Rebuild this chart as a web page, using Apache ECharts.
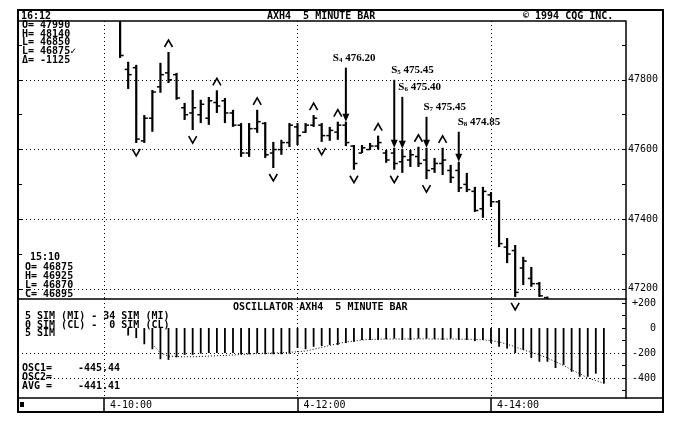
<!DOCTYPE html>
<html><head><meta charset="utf-8">
<script src="https://cdn.jsdelivr.net/npm/echarts@6/dist/echarts.min.js"></script>
<style>html,body{margin:0;padding:0;background:#fff}#c{width:677px;height:427px}</style>
</head><body><div id="c"></div>
<script>
// ---------------- DATA ----------------
const barTimes = ['10:10','10:15','10:20','10:25','10:30','10:35','10:40','10:45','10:50','10:55',
  '11:00','11:05','11:10','11:15','11:20','11:25','11:30','11:35','11:40','11:45','11:50','11:55',
  '12:00','12:05','12:10','12:15','12:20','12:25','12:30','12:35','12:40','12:45','12:50','12:55',
  '13:00','13:05','13:10','13:15','13:20','13:25','13:30','13:35','13:40','13:45','13:50','13:55',
  '14:00','14:05','14:10','14:15','14:20','14:25','14:30','14:35'];
const opens  = [47980,47830,47835,47625,47690,47780,47820,47815,47720,47705,
  47700,47690,47735,47740,47705,47670,47590,47660,47675,47590,47600,47620,
  47665,47650,47670,47670,47640,47650,47670,47610,47590,47600,47610,47590,
  47590,47565,47570,47580,47570,47545,47560,47540,47540,47500,47480,47430,
  47470,47450,47320,47310,47260,47230,47215,47175];
const highs  = [47990,47852,47843,47699,47771,47849,47880,47820,47734,47771,
  47743,47751,47770,47748,47714,47676,47676,47714,47679,47622,47628,47676,
  47676,47676,47699,47676,47665,47680,47680,47613,47613,47619,47640,47599,
  47605,47602,47599,47608,47605,47576,47605,47556,47565,47533,47493,47493,
  47478,47455,47346,47326,47292,47263,47220,47178];
const lows   = [47863,47774,47619,47619,47651,47763,47791,47743,47685,47656,
  47676,47671,47705,47676,47665,47579,47579,47648,47576,47547,47585,47607,
  47613,47648,47665,47622,47625,47628,47610,47542,47590,47599,47600,47562,
  47542,47533,47550,47550,47515,47533,47527,47504,47478,47478,47421,47404,
  47435,47320,47274,47177,47211,47206,47177,47120];
const closes = [47870,47815,47630,47690,47765,47815,47800,47748,47700,47720,
  47730,47740,47725,47705,47670,47590,47660,47680,47585,47600,47620,47670,
  47640,47670,47690,47640,47655,47670,47620,47560,47605,47610,47620,47570,
  47560,47580,47585,47560,47540,47560,47570,47520,47490,47485,47425,47480,
  47450,47330,47300,47190,47280,47215,47180,47130];

const peakTimes   = ['10:40','11:10','11:35','12:10','12:25','12:50','13:15','13:30'];
const troughTimes = ['10:20','10:55','11:45','12:15','12:35','13:00','13:20','14:15'];

const signalTimes  = ['12:30','13:00','13:05','13:20','13:40'];
const signalNums   = ['4','5','6','7','8'];
const signalPrices = ['476.20','475.45','475.40','475.45','474.85'];

const oscTimes = ['10:15','10:20','10:25','10:30','10:35','10:40','10:45','10:50','10:55',
  '11:00','11:05','11:10','11:15','11:20','11:25','11:30','11:35','11:40','11:45','11:50','11:55',
  '12:00','12:05','12:10','12:15','12:20','12:25','12:30','12:35','12:40','12:45','12:50','12:55',
  '13:00','13:05','13:10','13:15','13:20','13:25','13:30','13:35','13:40','13:45','13:50','13:55',
  '14:00','14:05','14:10','14:15','14:20','14:25','14:30','14:35','14:40','14:45','14:50','14:55',
  '15:00','15:05','15:10'];
const oscValues = [-60,-80,-130,-170,-250,-255,-235,-215,-215,
  -205,-200,-200,-200,-200,-210,-210,-200,-210,-210,-210,-205,
  -160,-170,-150,-145,-135,-135,-120,-110,-95,-95,-95,-90,
  -85,-95,-95,-85,-85,-90,-95,-85,-95,-95,-105,-95,
  -120,-150,-165,-200,-175,-240,-270,-270,-320,-295,-350,-390,
  -390,-365,-445];
const avgValues = [null,null,null,-130,-200,-225,-228,-230,-230,
  -228,-225,-222,-220,-216,-212,-208,-205,-202,-200,-198,-195,
  -190,-185,-170,-155,-140,-125,-112,-104,-96,-92,-90,-88,
  -88,-88,-87,-87,-87,-88,-88,-88,-89,-90,-92,-95,
  -100,-112,-130,-150,-175,-195,-215,-240,-270,-300,-335,-365,
  -400,-420,-441];

const priceLabels = [47200,47400,47600,47800];
const priceTicks  = [47200,47300,47400,47500,47600,47700,47800,47900];
const oscLabels   = [200,0,-200,-400];
const oscTicks    = [200,100,0,-100,-200,-300,-400,-500];
const oscGrid     = [-200,-400];
const timeTicks   = ['10:00','12:00','14:00'];
const timeLabels  = ['4-10:00','4-12:00','4-14:00'];

// ---------------- BUILD ----------------
function tm(s){ const p = s.split(':'); return (+p[0]-10)*60 + (+p[1]); }
const ohlc = barTimes.map((t,i)=>[tm(t),opens[i],highs[i],lows[i],closes[i]]);
const markers = peakTimes.map(t=>{const i=barTimes.indexOf(t);return [tm(t),highs[i],1];})
  .concat(troughTimes.map(t=>{const i=barTimes.indexOf(t);return [tm(t),lows[i],-1];}));
const signals = signalTimes.map((t,k)=>{const i=barTimes.indexOf(t);return [tm(t),highs[i],k];});
const osc = oscTimes.map((t,i)=>[tm(t),oscValues[i]]);
const avg = oscTimes.map((t,i)=>[tm(t),avgValues[i]]);
const tTicks = timeTicks.map(tm);

// arrow lengths (px) and label offsets for the signal annotations
const arrowLen = [54,68,52,31,30];
const labelDx  = [-13,-3,-4,-3,-1];

const XMIN = -53.33, XMAX = 323.72;
const MONO = 'DejaVu Sans Mono';
const dotted = {color:'#000', width:1, type:[1,3]};

const chart = echarts.init(document.getElementById('c'), null, {renderer:'canvas'});

function txt(x,y,s){ return {type:'text', x:x, y:y, style:{text:s, fill:'#000', font:'bold 10px '+MONO, textVerticalAlign:'middle'}}; }

chart.setOption({
  animation:false,
  backgroundColor:'#fff',
  grid:[
    {left:18, top:21, width:608, height:278},
    {left:18, top:299, width:608, height:99},
    {left:18, top:398, width:608, height:14}
  ],
  xAxis:[
    {type:'value', gridIndex:0, min:XMIN, max:XMAX, axisLine:{show:false, onZero:false}, axisLabel:{show:false},
      axisTick:{show:false, customValues:tTicks}, splitLine:{show:true, lineStyle:dotted}},
    {type:'value', gridIndex:1, min:XMIN, max:XMAX, axisLine:{show:false, onZero:false}, axisLabel:{show:false},
      axisTick:{show:false, customValues:tTicks}, splitLine:{show:true, lineStyle:dotted}},
    {type:'value', gridIndex:2, min:XMIN, max:XMAX, position:'bottom',
      axisLine:{show:false, onZero:false},
      axisTick:{show:true, inside:true, length:14, customValues:tTicks, lineStyle:{color:'#000', width:1.5}},
      axisLabel:{show:true, inside:true, customValues:tTicks, margin:2, align:'left', padding:[0,0,0,6],
        color:'#000', fontFamily:MONO, fontSize:10,
        formatter:(v)=>timeLabels[tTicks.indexOf(v)]},
      splitLine:{show:false}}
  ],
  yAxis:[
    {type:'value', gridIndex:0, position:'right', min:47171, max:47969,
      axisLine:{show:true, onZero:false, lineStyle:{color:'#000', width:1.5}},
      axisTick:{show:true, inside:true, length:4, customValues:priceTicks, lineStyle:{color:'#000'}},
      axisLabel:{show:true, customValues:priceLabels, align:'right', margin:32, color:'#000', fontFamily:MONO, fontSize:10,
        formatter:(v)=>String(v)},
      splitLine:{show:false}},
    {type:'value', gridIndex:0, position:'left', min:47171, max:47969,
      axisLine:{show:false, onZero:false}, axisLabel:{show:false},
      axisTick:{show:true, inside:true, length:4, customValues:priceTicks, lineStyle:{color:'#000'}},
      splitLine:{show:false}},
    {type:'value', gridIndex:0, position:'left', min:47171, max:47969,
      axisLine:{show:false, onZero:false}, axisLabel:{show:false},
      axisTick:{show:false, customValues:priceLabels}, splitLine:{show:true, lineStyle:dotted}},
    {type:'value', gridIndex:1, position:'right', min:-560, max:232,
      axisLine:{show:true, onZero:false, lineStyle:{color:'#000', width:1.5}},
      axisTick:{show:true, inside:true, length:4, customValues:oscTicks, lineStyle:{color:'#000'}},
      axisLabel:{show:true, customValues:oscLabels, align:'right', margin:30, color:'#000', fontFamily:MONO, fontSize:10,
        formatter:(v)=> v>0 ? '+'+v : String(v)},
      splitLine:{show:false}},
    {type:'value', gridIndex:1, position:'left', min:-560, max:232,
      axisLine:{show:false, onZero:false}, axisLabel:{show:false},
      axisTick:{show:false, customValues:oscGrid}, splitLine:{show:true, lineStyle:dotted}},
    {type:'value', gridIndex:2, min:0, max:1, show:false}
  ],
  series:[
    {type:'custom', name:'ohlc', xAxisIndex:0, yAxisIndex:0, clip:true, data:ohlc,
      encode:{x:0, y:[1,2,3,4]},
      renderItem:(params, api)=>{
        const x = api.value(0);
        const o = api.coord([x, api.value(1)]), h = api.coord([x, api.value(2)]),
              l = api.coord([x, api.value(3)]), c = api.coord([x, api.value(4)]);
        const cx = h[0];
        return {type:'group', children:[
          {type:'line', shape:{x1:cx, y1:h[1], x2:cx, y2:l[1]}, style:{stroke:'#000', lineWidth:2.2}},
          {type:'line', shape:{x1:cx-3.5, y1:o[1], x2:cx, y2:o[1]}, style:{stroke:'#000', lineWidth:1.5}},
          {type:'line', shape:{x1:cx, y1:c[1], x2:cx+3.5, y2:c[1]}, style:{stroke:'#000', lineWidth:1.5}}
        ]};
      }},
    {type:'custom', name:'swings', xAxisIndex:0, yAxisIndex:0, clip:false, data:markers,
      renderItem:(params, api)=>{
        const p = api.coord([api.value(0), api.value(1)]);
        const up = api.value(2) > 0;
        const pts = up ? [[p[0]-4, p[1]-5],[p[0], p[1]-12],[p[0]+4, p[1]-5]]
                       : [[p[0]-4, p[1]+6],[p[0], p[1]+13],[p[0]+4, p[1]+6]];
        return {type:'polyline', shape:{points:pts}, style:{stroke:'#000', fill:null, lineWidth:1.6}};
      }},
    {type:'custom', name:'signals', xAxisIndex:0, yAxisIndex:0, clip:false, data:signals,
      renderItem:(params, api)=>{
        const k = api.value(2);
        const p = api.coord([api.value(0), api.value(1)]);
        const top = p[1] - arrowLen[k];
        return {type:'group', children:[
          {type:'line', shape:{x1:p[0], y1:top, x2:p[0], y2:p[1]-6}, style:{stroke:'#000', lineWidth:2}},
          {type:'polygon', shape:{points:[[p[0]-3.5,p[1]-8],[p[0]+3.5,p[1]-8],[p[0],p[1]]]}, style:{fill:'#000'}},
          {type:'text', style:{x:p[0]+labelDx[k], y:top-4, verticalAlign:'bottom', align:'left',
             text:'{s|S}{n|'+signalNums[k]+'}{v| '+signalPrices[k]+'}',
             rich:{s:{font:'bold 11px Liberation Serif', fill:'#000'},
                   n:{font:'bold 7px Liberation Serif', fill:'#000', verticalAlign:'bottom', padding:[4,0,0,0]},
                   v:{font:'bold 11px Liberation Serif', fill:'#000'}}}}
        ]};
      }},
    {type:'bar', name:'osc', xAxisIndex:1, yAxisIndex:3, data:osc, barWidth:1.8,
      itemStyle:{color:'#000'}, silent:true},
    {type:'line', name:'avg', xAxisIndex:1, yAxisIndex:3, data:avg, showSymbol:false, symbol:'none',
      connectNulls:false, lineStyle:{color:'#000', width:1, type:[1,2]}}
  ],
  graphic:[
    {type:'rect', shape:{x:18, y:10, width:645, height:402}, style:{fill:null, stroke:'#000', lineWidth:2}},
    {type:'line', shape:{x1:18, y1:21, x2:626, y2:21}, style:{stroke:'#000', lineWidth:1.5}},
    {type:'line', shape:{x1:18, y1:299, x2:626, y2:299}, style:{stroke:'#000', lineWidth:1.5}},
    {type:'line', shape:{x1:18, y1:398, x2:663, y2:398}, style:{stroke:'#000', lineWidth:1.5}},
    {type:'rect', shape:{x:20, y:402, width:4, height:5}, style:{fill:'#000'}},
    txt(21,16,'16:12'),
    txt(267,16,'AXH4  5 MINUTE BAR'),
    txt(523,16,'© 1994 CQG INC.'),
    txt(22,25.5,'O= 47990'),
    txt(22,34,'H= 48140'),
    txt(22,42.5,'L= 46850'),
    txt(22,51,'L= 46875✓'),
    txt(22,60,'Δ= -1125'),
    txt(30,257,'15:10'),
    txt(25,267.5,'O= 46875'),
    txt(25,276.5,'H= 46925'),
    txt(25,285.5,'L= 46870'),
    txt(25,294.5,'C= 46895'),
    txt(233,307,'OSCILLATOR AXH4  5 MINUTE BAR'),
    txt(25,316.5,'5 SIM (MI) - 34 SIM (MI)'),
    txt(25,325,'0 SIM (CL) -  0 SIM (CL)'),
    txt(25,333.5,'5 SIM'),
    txt(22,368.5,'OSC1='),
    txt(78,368.5,'-445.44'),
    txt(22,377.5,'OSC2='),
    txt(22,386,'AVG ='),
    txt(78,386,'-441.41')
  ]
});
</script>
</body></html>
